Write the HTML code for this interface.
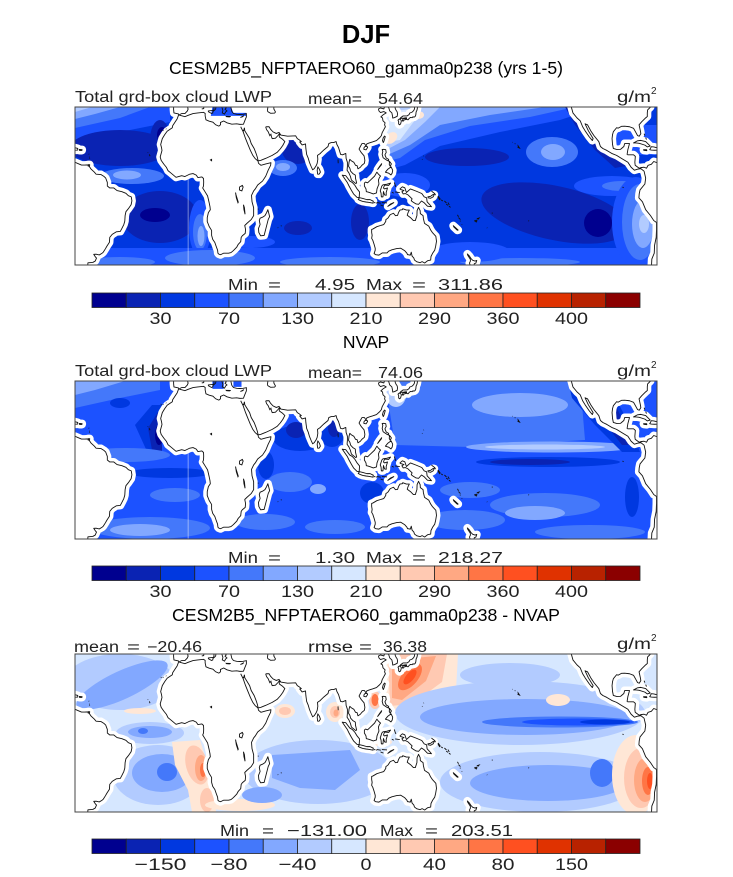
<!DOCTYPE html>
<html><head><meta charset="utf-8"><style>
html,body{margin:0;padding:0;background:#fff;}
svg{display:block;}
text{font-family:"Liberation Sans",Arial,sans-serif;}
.h{font-size:15.5px;fill:#222;}
.t{font-size:17.5px;fill:#000;}
.m{font-size:16px;fill:#222;}
.c{font-size:17px;fill:#222;text-anchor:middle;}
</style></head><body>
<svg width="733" height="877" viewBox="0 0 733 877" xmlns="http://www.w3.org/2000/svg">
<defs>
<clipPath id="cp1"><rect x="75" y="107" width="582" height="158"/></clipPath>
<clipPath id="cp2"><rect x="75" y="381" width="582" height="158"/></clipPath>
<clipPath id="cp3"><rect x="75" y="654" width="582" height="158"/></clipPath>
<path id="L" vector-effect="non-scaling-stroke" stroke-linejoin="round" d="
M-75,12 L-70,12 L-68,11.3 L-66,10.6 L-64,10.6 L-62,10.7 L-61,9.7 L-60,8.5 L-58,7 L-57,6 L-54,5.8 L-52,4.8 L-51,4 L-50,1.8 L-50,0 L-48.5,-1 L-46,-1 L-44,-2.3 L-41,-2.9 L-38.5,-3.7 L-37,-4.9 L-35.2,-5.5 L-34.8,-7.5 L-35.3,-9.5 L-37,-11.5 L-38.5,-13 L-39,-15 L-39.2,-17.8 L-39.8,-19.5 L-41,-21.5 L-42,-23 L-44.5,-23.2 L-47,-24.5 L-48.5,-26 L-48.7,-28.5 L-50.3,-30.5 L-51.2,-31.8 L-52.5,-33.5 L-53.5,-34.2 L-55,-34.9 L-57,-34.5 L-58.4,-34.6 L-57.3,-36 L-56.7,-36.5 L-57.5,-38 L-59,-38.7 L-62,-38.9 L-62.3,-42 L-75,-42 Z
M-74.5,18.4 L-73.5,19.9 L-72,19.8 L-68.3,19 L-68.3,18.2 L-71.5,18.1 L-73.5,18.2 Z
M-67.3,18.5 L-65.6,18.4 L-65.7,18 L-67.2,18 Z
M-61.9,10.8 L-60.9,10.8 L-61,10.1 L-61.9,10.1 Z
M236,42 L237,40 L238,37 L240.5,34.5 L242.5,33 L244,30 L245.5,28 L248,25 L250,23 L250.5,24 L247.5,28 L245.5,31.5 L247,31 L249,28 L251,25.5 L254,22.5 L255,20 L256.5,19 L259,18 L262,16.5 L265,15.5 L268,14 L272,12 L274,9.5 L276,8 L278,8.5 L280,8.8 L282,7.5 L283,4 L282.5,1 L279.5,-2 L279,-4 L278.8,-6 L281,-8 L283,-12 L286,-15 L288,-17.5 L289.7,-18.5 L289.7,-22 L289.5,-26 L288.5,-30 L288.3,-34 L286.8,-37 L286.5,-42 L295,-42 L295,11.5 L290,11.8 L288,12.4 L286.5,11 L284.5,10.5 L283.5,9 L282,9.5 L280,9.3 L279,9 L276.5,10.5 L276.3,12 L276.6,15 L275.5,15.8 L272,15.8 L271.5,16 L272,18.5 L273,21.5 L270,21.5 L269.5,20 L267.5,18.6 L265,18.5 L263,19 L262.5,21 L262.2,24 L262.5,26 L263,27.5 L265,29.5 L266,29.3 L268,30.2 L270,30.3 L273,30 L275.5,29.2 L277,27 L278,25.5 L279,25.2 L280,26.5 L279.7,28 L278.9,31 L280.5,32.5 L283,34.5 L284,35.2 L284,37 L284.2,38.5 L286,40 L286,42 Z
M285.5,18.4 L286.5,19.9 L288,19.8 L291.7,19 L291.7,18.2 L288.5,18.1 L286.5,18.2 Z
M275.5,21.8 L278,22.9 L280,23.1 L283,22.5 L285.8,20.2 L284,19.8 L282.5,20.7 L279,21.6 L277,21.8 Z
M281.7,18.4 L283.6,18.4 L283.7,17.9 L281.8,18.1 Z
M-9,42 L-9,38.7 L-8.8,37 L-6,36.5 L-6,35.8 L-6.8,34 L-9.6,30.5 L-9.8,29.5 L-13,27.7 L-14.5,26 L-16,24 L-17,21 L-16.5,19.5 L-16.2,18 L-17.3,14.7 L-16.7,13 L-15,11 L-13.5,9.5 L-12.5,7.8 L-11,6.8 L-7.5,4.4 L-4,5.2 L-2,4.8 L1,6 L3,6.3 L5,5.5 L6,4.3 L7,4.4 L8.5,4.6 L9.5,3.8 L9.6,2 L9.5,0 L9,-1 L10.5,-3 L12,-5 L12.3,-6 L13,-8.5 L13.5,-10.5 L13.7,-12 L12.5,-13.5 L11.8,-16 L11.8,-18 L13,-20.5 L14.5,-22.5 L14.5,-25 L15.2,-27 L16.5,-28.6 L17.3,-30.5 L18.2,-32.5 L18.4,-34 L19,-34.5 L20,-34.8 L22,-34 L25,-34 L26.5,-33.7 L28,-32.7 L30,-31 L31,-29.5 L32.5,-28.2 L32.8,-26 L33.5,-25.2 L35.3,-24 L35.5,-22 L35,-20 L36.5,-18.8 L39,-17 L40.5,-15 L40.5,-11 L39.5,-8 L39.3,-6 L39.2,-4.7 L40.5,-2.5 L41.5,-1.5 L43,0.5 L46,2.5 L48,5 L49.5,8 L51,10.5 L51.2,11.8 L48,11.2 L45,10.5 L43.5,11.5 L43.2,12.7 L45,13 L48,14 L52,15.5 L55,17 L57,18.8 L58.5,20.5 L59.8,22.5 L58.5,23.6 L56.4,24.8 L56.3,26.3 L57.3,25.8 L61.5,25.2 L66.5,25.4 L67.5,24 L68.5,23.5 L70,22.5 L69,22.3 L70.5,20.8 L72.6,21.3 L72.8,19 L73.3,16 L74.3,14 L75,12 L76,10 L77,8.2 L78,8.8 L79.2,10.3 L79.8,11.5 L80.2,13.5 L80,15.5 L81.5,16.3 L82.3,17 L84,18.3 L86.5,20 L87,21.5 L88.5,22 L90,22 L91.5,22.5 L92,21 L93,19.5 L94.3,16 L95.5,15.8 L97.5,16.5 L97.7,14 L98.5,12 L98.5,10 L98.3,8 L99.5,6.5 L100.3,5 L101,3 L102.5,2 L103.5,1.3 L104.2,1.5 L103.5,4 L103.4,5.5 L102,6.2 L100.5,7.5 L100,9 L99.2,10 L99.5,12 L100,13.5 L101,12.7 L102.5,12 L103.5,10.5 L104.5,10.3 L105,8.7 L106.5,9.5 L107.5,10.5 L109,11.5 L109.3,13 L108.8,15.3 L107,17 L105.7,18.7 L106.5,20 L107.5,21.5 L109,21.5 L110,20.3 L110.5,21.3 L112,21.8 L114,22.3 L116.5,23 L118.5,24.5 L119.5,25.5 L120,27 L121,28.5 L122,30 L121.5,31 L121.8,32 L120.5,33 L120.2,34.5 L119.2,35 L120.5,36 L122.5,37 L121,37.7 L119,37.2 L118,38 L117.7,39 L119,39.5 L121,39 L121.5,40 L122.5,40.2 L124,39.8 L124.7,38 L126,37 L126.5,35 L126.5,34.4 L127.5,34.6 L129.3,35.3 L129.5,36.5 L129.3,37.5 L128.5,38.5 L128,39.5 L128.5,42 Z
M47,-25 L49.5,-17 L50.4,-15.5 L49.3,-12 L48.5,-13.5 L47.5,-15 L46,-15.8 L44.5,-16.3 L44,-17.5 L44.5,-19.5 L43.5,-21.5 L43.7,-23.5 L44.8,-25.2 Z
M79.8,8 L80.2,9.7 L81.2,8.5 L81.8,7 L81,6 L80.1,6 Z
M95.3,5.5 L97.5,5.2 L100,2.5 L101.5,1.8 L103,0.5 L104.5,-1.5 L106,-3 L105.8,-5.8 L104.5,-5.8 L102.3,-4 L101,-2.2 L99.5,0 L98.5,1.7 L97,3.5 Z
M105.2,-6.8 L106,-5.9 L108,-6.3 L110.5,-6.9 L112.5,-6.9 L114.5,-7.7 L114.4,-8.7 L112,-8.3 L110,-8.1 L108,-7.8 L106.5,-7.4 Z
M109,1.5 L109.7,2 L111,1.6 L113,3.2 L115.3,5 L116.7,7 L117.7,6 L119,5 L118.3,4.3 L117.7,3 L118,1 L117.5,0 L116.8,-1.5 L116.5,-3.5 L114.5,-4 L112.5,-3.4 L111,-3 L110.2,-2.9 L110,-1.5 L109,0 Z
M119.5,-5.5 L119.3,-3.5 L118.8,-2.5 L119.8,0 L120.5,0.6 L123,0.9 L124.5,1.3 L125.2,1.5 L124,0.3 L121.5,0.5 L120.8,-1 L121.5,-1.5 L123.3,-1 L122.5,-3.2 L122.5,-4.7 L121.5,-4.5 L120.8,-2.8 L120.5,-5.5 Z
M120,18.5 L121,18.6 L122.2,18.4 L122.5,17 L121.7,15.8 L122.5,14.2 L124,13.5 L124,12.6 L123,13 L121.5,13.8 L120.6,14.3 L120,16 L120.4,17.5 Z
M122,7 L123.5,8.5 L125.5,9.7 L126.5,8 L126.2,6.5 L125.4,5.6 L124,6.5 Z
M124.5,12.5 L125.7,11.2 L125,10 L124.4,10.8 Z
M117.2,8.4 L119.5,10.7 L119.7,11.3 L118.5,10 Z
M120.2,23 L120.7,22 L121,22.5 L121.5,23.8 L121.9,25 L121.5,25.3 L120.7,24.5 Z
M108.7,19.3 L109.5,20.1 L110.7,20 L111,19.5 L110,18.3 L108.7,18.5 Z
M130.9,34 L132,34.3 L133.5,34.4 L135,34.6 L135.2,33.7 L136,33.5 L136.8,34.3 L137.5,34.7 L138.5,34.6 L139,35 L139.8,34.9 L140.4,35.2 L140.8,36 L141,37.5 L141.5,38.3 L141.8,39.5 L142,42 L140,42 L140,39 L139.5,38.2 L138.5,37.4 L137,36.9 L136.7,36.2 L135.5,35.5 L133,35.5 L131.5,34.6 Z
M129.8,33.3 L130.5,33.9 L131.4,33.6 L131.9,33 L131.4,31.4 L130.7,31 L130.2,31.4 L130.2,32.6 Z
M132.5,33 L132.9,34 L134.6,34.2 L134.7,33.7 L133.5,33.4 L133,32.8 Z
M131,-1.5 L132.5,-0.4 L134,-0.9 L135,-3.3 L137.5,-1.5 L141,-2.6 L144.5,-3.8 L146,-5.5 L147.5,-6 L147.8,-8 L149.5,-9.5 L150.5,-10.5 L148,-10.2 L146,-8.5 L144.3,-7.6 L142.5,-9.3 L141,-9.1 L139,-8.1 L138,-7.5 L138.5,-6.5 L136,-4.5 L134.3,-3.8 L133,-4 L132.2,-2.9 L133.5,-2.3 L131.5,-1.8 Z
M123.5,-10.3 L125,-9.2 L127.2,-8.4 L126.5,-8.8 L124.5,-9.8 Z
M148.3,-5.5 L150,-5.2 L151.5,-4.3 L152.2,-4.4 L151.5,-5.5 L150,-6.2 L148.5,-6 Z
M164,-20.1 L165.5,-21.2 L167,-22.3 L166.5,-22.4 L164.3,-20.7 Z
M113.5,-22 L114.2,-21.8 L116.7,-20.6 L119,-20 L121,-19.5 L122.2,-18 L122.3,-17 L123.5,-16.3 L125,-14.5 L127,-13.8 L128.2,-15 L129.5,-14.9 L130.2,-13.3 L131,-12.2 L132.5,-12 L132.7,-11.5 L135,-12.2 L136.8,-12.2 L136,-13.5 L135.5,-14.8 L137.5,-16 L139.3,-17.5 L140.5,-17.5 L141.5,-15 L141.6,-12.5 L142.5,-10.8 L143.5,-12.5 L143.6,-14 L145.3,-15 L145.5,-16.5 L146.2,-18.9 L148.8,-20.3 L150,-22.3 L151,-23.5 L153.2,-25.5 L153.6,-28 L153.1,-30.5 L152.5,-32.5 L151.3,-33.9 L150.2,-35.7 L150,-37.5 L148.2,-37.8 L146.3,-39 L144.7,-38.3 L143.5,-38.8 L141.5,-38.4 L140,-37.5 L139.6,-36.5 L138.5,-35.5 L138,-33.5 L137.4,-35 L136,-34.8 L135.7,-34.8 L135.3,-34 L134,-32.8 L131.5,-31.5 L129,-31.7 L126,-32.3 L124,-33 L123,-33.9 L120,-33.9 L118,-35 L116,-34.8 L115,-34.2 L115.7,-32.5 L115.7,-31.5 L115,-29.5 L114.2,-27.5 L113.5,-26.5 L113.8,-25 L113.5,-23.5 Z
M172.7,-34.4 L174,-35.5 L175,-36.8 L175.5,-37.2 L176,-37.6 L177.5,-38 L178.5,-37.7 L178,-39 L177,-39.3 L176.5,-42 L174.5,-42 L174.8,-41 L174,-39 L174.6,-38 L174.5,-37 L173,-35.2 Z"/>
<path id="X" vector-effect="non-scaling-stroke" fill="none" d="
M-5.6,35.9 L-2,35.1 L0,35.8 L3,36.7 L6,37 L9.5,37.3 L10.5,36.8 L10.5,35.5 L11,33.5 L13,32.8 L15.3,32.3 L17,31 L19,30.3 L20,31 L20,32.2 L22,32.9 L24,32 L27,31.3 L30,31.5 L32,31.2 L34.2,31.3 L35,33 L36,35 L36,36.6 L34,36.3 L32,36.2 L30,36.3 L28,36.7 L27,37.8 L26.5,39.5 L26.5,41
M-5.6,36 L-4,36.7 L-2,36.7 L-0.5,38 L0,39 L-0.3,39.5 L0.5,41
M15.5,41 L16,39.5 L15.7,38 L16.5,38.5 L17,39 L17.3,40.5 L18.5,40.2 L18.5,41
M12.5,38 L15.5,38.3 L15.2,37 L14.5,36.7 L12.5,37.6 Z
M8.4,39 L9.6,39.2 L9.8,40.5 L9.5,41
M20.5,41 L21,39.5 L21.5,38.3 L21.1,37 L22.5,36.4 L23.2,37.5 L24,38 L22.8,38.9 L23.5,39.5 L22.6,40.5 L23.5,41
M23.5,35.3 L26.3,35.2 L25.5,35 L23.7,35.1 Z
M32.3,34.7 L34.5,35.6 L33.5,35 Z
M32.5,30 L34,27.5 L35.5,24 L37,21 L38.5,18 L40,15.5 L41.5,13.8 L43.3,12.6
M43.3,12.7 L42.8,14.5 L42,16.5 L40.8,19 L39,21.5 L38,24 L36.5,26 L35,28 L34.8,29.5 L34.3,28 L33.5,28.2
M56.3,26.3 L55.5,25.5 L54,24.2 L52,24 L51.5,25 L51.2,26.2 L50.5,25.5 L50,26.5 L49.5,27.5 L48.5,28.5 L48,29.8 L48.5,30 L50,30 L51,28.7 L52.5,27.4 L54.5,26.6 L56.2,27.1 L57.3,25.8
M49,38 L49.5,37.5 L51,36.8 L53.5,36.9 L54,37.5 L53,39 L53,40.5 M49,38 L49.4,40.5
M31.8,-0.5 L33.5,0.3 L34,-0.5 L33.2,-2.5 L31.7,-2 Z
M29.3,-3.3 L29.8,-6 L30.8,-8.5 L31,-8.2 L29.6,-4.5 Z
M34.2,-9.5 L34.5,-12 L35.2,-14.3 L34.8,-11 Z
M13.8,13.2 L14.5,13.5 L14.5,12.8 Z
M-15.5,28.2 L-15.4,27.9 M-17,28.3 L-16.4,28.1 M-13.8,29 L-13.5,28.8
M-24,16 L-23.6,15.1 M-25,17 L-24.8,16.8
M43.3,-11.5 L43.4,-11.9 M57.4,-20 L57.7,-20.4 M55.4,-21 L55.7,-21.2
M92.7,13.5 L92.8,11.5
M127.5,1.8 L128,0.5 L128.5,-0.5 M128,-3 L130.9,-3.3 M126,-3.2 L127.2,-3.6
M115,-8.2 L115.7,-8.6 M116.1,-8.4 L116.6,-8.8 M116.8,-8.4 L119.2,-8.7 M119.8,-8.4 L123,-8.6 M119,-9.6 L120.8,-10.2
M150.5,-2.6 L152.5,-3.8 L153,-4.6 L152,-3.5 Z
M154.6,-5.1 L155.9,-6.6 L155.5,-6.9 L154.7,-5.8 Z
M156.5,-7 L157.5,-7.6 M158.5,-7.6 L159.8,-8.6 M159.6,-9.2 L160.8,-9.8 M160.7,-8.4 L161.5,-9.6 M161.3,-10.2 L162.3,-10.8
M166.6,-14.6 L167.2,-15.6 M167.2,-16 L168.4,-17 M168.3,-17.5 L168.3,-18 M169.2,-19.4 L169.5,-19.6
M177.3,-17.5 L178.6,-17.3 L178.4,-18.2 L177.5,-18 Z M178.9,-16.5 L180,-16.2 L179.4,-16.8 Z
M187.8,-13.6 L188.4,-13.8 M184.8,-21.1 L185,-21.3 M210.5,-17.5 L210.8,-17.8
M204,19.5 L205,19.2 L204.2,20.2 Z M203.6,20.8 L203.9,20.6 M202,21.5 L202.4,21.3 M200.5,22.1 L200.7,22.2
M268.7,-0.5 L269.3,-0.9
M144.7,13.4 L144.9,13.6 M145.6,15.1 L145.8,15.3
M282,26.5 L282.5,25.5 M283,24.5 L283.5,23.5
M-61.5,16.3 L-61.3,16 M-61,14.8 L-61,14.4 M-61,14 L-60.9,13.7"/>
</defs>

<!-- Titles -->
<text x="366" y="43" text-anchor="middle" style="font-size:25.5px;font-weight:bold;fill:#000">DJF</text>
<text class="t" x="169" y="74" textLength="394" lengthAdjust="spacingAndGlyphs">CESM2B5_NFPTAERO60_gamma0p238 (yrs 1-5)</text>

<!-- Panel 1 header -->
<text class="h" x="75" y="102" textLength="197" lengthAdjust="spacingAndGlyphs">Total grd-box cloud LWP</text>
<text class="h" x="308" y="104" textLength="54" lengthAdjust="spacingAndGlyphs">mean=</text>
<text class="h" x="378" y="104" textLength="45" lengthAdjust="spacingAndGlyphs">54.64</text>
<text class="h" x="617" y="102" textLength="34" lengthAdjust="spacingAndGlyphs">g/m</text>
<text x="651" y="94" style="font-size:10px;fill:#222">2</text>

<!-- Panel 1 -->
<g clip-path="url(#cp1)">
<rect x="75" y="107" width="582" height="158" fill="#0038e0"/>
<path d="M75,107 H170 V122 L130,130 L75,142 Z" fill="#1c52ff"/>
<path d="M75,107 H150 L120,118 L75,128 Z" fill="#4478fa"/>
<path d="M75,107 H120 L95,114 L75,119 Z" fill="#82a8ff"/>
<path d="M75,107 H92 L75,112 Z" fill="#b2cbff"/>
<ellipse cx="120" cy="148" rx="50" ry="18" fill="#0a23b3"/>
<ellipse cx="160" cy="140" rx="10" ry="20" fill="#0a23b3"/>
<ellipse cx="162" cy="135" rx="5" ry="8" fill="#00008f"/>
<ellipse cx="132" cy="176" rx="32" ry="8" fill="#4478fa"/>
<ellipse cx="127" cy="175" rx="14" ry="4.5" fill="#82a8ff"/>
<ellipse cx="160" cy="217" rx="38" ry="26" fill="#0a23b3"/>
<ellipse cx="155" cy="215" rx="15" ry="7" fill="#00008f"/>
<ellipse cx="200" cy="228" rx="11" ry="28" fill="#1c52ff"/>
<ellipse cx="200" cy="232" rx="7" ry="18" fill="#4478fa"/>
<ellipse cx="201" cy="236" rx="3.5" ry="10" fill="#82a8ff"/>
<rect x="75" y="248" width="582" height="17" fill="#1c52ff"/>
<ellipse cx="210" cy="258" rx="45" ry="8" fill="#4478fa"/>
<ellipse cx="330" cy="262" rx="50" ry="5" fill="#4478fa"/>
<ellipse cx="120" cy="262" rx="35" ry="5" fill="#4478fa"/>
<ellipse cx="520" cy="262" rx="60" ry="4" fill="#4478fa"/>
<ellipse cx="298" cy="150" rx="16" ry="14" fill="#0a23b3"/>
<ellipse cx="283" cy="168" rx="14" ry="8" fill="#4478fa"/>
<ellipse cx="283" cy="167" rx="7" ry="4" fill="#82a8ff"/>
<ellipse cx="298" cy="228" rx="14" ry="7" fill="#0a23b3"/>
<ellipse cx="360" cy="222" rx="9" ry="18" fill="#0a23b3"/>
<ellipse cx="250" cy="242" rx="25" ry="6" fill="#1c52ff"/>
<ellipse cx="405" cy="185" rx="25" ry="12" fill="#1c52ff"/>
<path d="M380,107 H600 L560,120 L500,132 L440,146 L405,165 L380,172 Z" fill="#1c52ff"/>
<path d="M380,107 H575 L530,117 L470,126 L425,140 L400,158 L380,163 Z" fill="#4478fa"/>
<path d="M380,107 H545 L490,115 L440,125 L410,145 L385,156 L380,156 Z" fill="#82a8ff"/>
<path d="M382,107 H440 L425,122 L405,140 L386,150 L382,140 Z" fill="#b2cbff"/>
<path d="M386,112 L420,108 L415,120 L400,140 L387,142 Z" fill="#d6e7ff"/>
<ellipse cx="391" cy="138" rx="7" ry="5" fill="#ffe7d6" transform="rotate(-40 391 138)"/>
<ellipse cx="418" cy="115" rx="6" ry="4" fill="#ffe7d6"/>
<ellipse cx="467" cy="157" rx="42" ry="9" fill="#0a23b3"/>
<ellipse cx="552" cy="152" rx="26" ry="15" fill="#4478fa"/>
<ellipse cx="553" cy="152" rx="12" ry="8" fill="#82a8ff"/>
<path d="M565,107 H600 L615,140 L632,165 L615,168 L595,150 L575,125 Z" fill="#0a23b3"/>
<path d="M575,107 H598 L612,140 L602,142 L585,120 Z" fill="#00008f"/>
<rect x="612" y="125" width="45" height="30" fill="#1c52ff"/>
<ellipse cx="612" cy="186" rx="38" ry="10" fill="#1c52ff"/>
<ellipse cx="622" cy="186" rx="20" ry="5" fill="#4478fa"/>
<ellipse cx="555" cy="213" rx="75" ry="27" fill="#0a23b3" transform="rotate(12 555 213)"/>
<ellipse cx="598" cy="223" rx="14" ry="14" fill="#00008f"/>
<ellipse cx="636" cy="222" rx="24" ry="45" fill="#1c52ff"/>
<ellipse cx="640" cy="222" rx="18" ry="38" fill="#4478fa"/>
<ellipse cx="643" cy="224" rx="11" ry="24" fill="#82a8ff"/>
<ellipse cx="644" cy="224" rx="5" ry="9" fill="#b2cbff"/>
<ellipse cx="470" cy="252" rx="40" ry="10" fill="#1c52ff"/>
<g transform="translate(75,107) scale(1.616667,-1.975) translate(70,-40)">
<use href="#L" fill="#fff" stroke="#fff" stroke-width="8"/>
<path d="M14,35.5 L36,35.5 L36,37 L28,37 L26.5,40 L15,40 Z" fill="#1c52ff"/>
<path d="M0,5 L0,-42" vector-effect="non-scaling-stroke" stroke="rgba(255,255,255,0.45)" stroke-width="1"/>
<use href="#L" fill="none" stroke="#111" stroke-width="0.9"/>
<use href="#X" stroke="#111" stroke-width="0.9"/>
</g>
</g>
<rect x="75" y="107" width="582" height="158" fill="none" stroke="#444" stroke-width="1"/>

<!-- Colorbar 1 -->
<text class="m" x="228" y="290" textLength="30" lengthAdjust="spacingAndGlyphs">Min</text>
<text class="m" x="268" y="290" textLength="13" lengthAdjust="spacingAndGlyphs">=</text>
<text class="m" x="315" y="290" textLength="40" lengthAdjust="spacingAndGlyphs">4.95</text>
<text class="m" x="366" y="290" textLength="36" lengthAdjust="spacingAndGlyphs">Max</text>
<text class="m" x="412" y="290" textLength="14" lengthAdjust="spacingAndGlyphs">=</text>
<text class="m" x="438" y="290" textLength="65" lengthAdjust="spacingAndGlyphs">311.86</text>
<g id="cb" stroke="#222" stroke-width="0.8">
<rect x="92" y="293" width="34.25" height="14.5" fill="#00008f"/>
<rect x="126.25" y="293" width="34.25" height="14.5" fill="#0a23b3"/>
<rect x="160.5" y="293" width="34.25" height="14.5" fill="#0038e0"/>
<rect x="194.75" y="293" width="34.25" height="14.5" fill="#1c52ff"/>
<rect x="229" y="293" width="34.25" height="14.5" fill="#4478fa"/>
<rect x="263.25" y="293" width="34.25" height="14.5" fill="#82a8ff"/>
<rect x="297.5" y="293" width="34.25" height="14.5" fill="#b2cbff"/>
<rect x="331.75" y="293" width="34.25" height="14.5" fill="#d6e7ff"/>
<rect x="366" y="293" width="34.25" height="14.5" fill="#ffe7d6"/>
<rect x="400.25" y="293" width="34.25" height="14.5" fill="#ffc9b2"/>
<rect x="434.5" y="293" width="34.25" height="14.5" fill="#ffa883"/>
<rect x="468.75" y="293" width="34.25" height="14.5" fill="#ff7545"/>
<rect x="503" y="293" width="34.25" height="14.5" fill="#ff5020"/>
<rect x="537.25" y="293" width="34.25" height="14.5" fill="#e03200"/>
<rect x="571.5" y="293" width="34.25" height="14.5" fill="#b82200"/>
<rect x="605.75" y="293" width="34.25" height="14.5" fill="#8b0000"/>
</g>
<text class="c" x="160.5" y="324" textLength="22" lengthAdjust="spacingAndGlyphs">30</text>
<text class="c" x="229" y="324" textLength="22" lengthAdjust="spacingAndGlyphs">70</text>
<text class="c" x="297.5" y="324" textLength="33" lengthAdjust="spacingAndGlyphs">130</text>
<text class="c" x="366" y="324" textLength="33" lengthAdjust="spacingAndGlyphs">210</text>
<text class="c" x="434.5" y="324" textLength="33" lengthAdjust="spacingAndGlyphs">290</text>
<text class="c" x="503" y="324" textLength="33" lengthAdjust="spacingAndGlyphs">360</text>
<text class="c" x="571.5" y="324" textLength="33" lengthAdjust="spacingAndGlyphs">400</text>

<!-- Panel 2 -->
<text class="t" x="366" y="348" text-anchor="middle">NVAP</text>
<text class="h" x="75" y="376" textLength="197" lengthAdjust="spacingAndGlyphs">Total grd-box cloud LWP</text>
<text class="h" x="308" y="378" textLength="54" lengthAdjust="spacingAndGlyphs">mean=</text>
<text class="h" x="378" y="378" textLength="45" lengthAdjust="spacingAndGlyphs">74.06</text>
<text class="h" x="617" y="376" textLength="34" lengthAdjust="spacingAndGlyphs">g/m</text>
<text x="651" y="368" style="font-size:10px;fill:#222">2</text>
<g clip-path="url(#cp2)">
<rect x="75" y="381" width="582" height="158" fill="#1c52ff"/>
<path d="M75,381 H160 V390 L120,398 L75,408 Z" fill="#4478fa"/>
<path d="M75,381 H125 L95,390 L75,395 Z" fill="#82a8ff"/>
<ellipse cx="120" cy="403" rx="10" ry="5" fill="#0038e0"/>
<path d="M135,425 L152,405 L162,405 L162,458 L150,458 Z" fill="#0038e0"/>
<path d="M148,428 L158,412 L162,412 L162,452 L152,450 Z" fill="#0a23b3"/>
<ellipse cx="159" cy="435" rx="4" ry="10" fill="#00008f"/>
<ellipse cx="125" cy="455" rx="45" ry="7" fill="#4478fa"/>
<ellipse cx="170" cy="473" rx="42" ry="5" fill="#0038e0"/>
<ellipse cx="175" cy="495" rx="25" ry="7" fill="#4478fa"/>
<ellipse cx="150" cy="528" rx="60" ry="11" fill="#4478fa"/>
<ellipse cx="140" cy="530" rx="30" ry="6" fill="#82a8ff"/>
<ellipse cx="300" cy="438" rx="27" ry="13" fill="#0038e0"/>
<ellipse cx="332" cy="432" rx="13" ry="15" fill="#0038e0"/>
<ellipse cx="296" cy="430" rx="10" ry="8" fill="#0a23b3"/>
<ellipse cx="334" cy="428" rx="6" ry="9" fill="#0a23b3"/>
<ellipse cx="266" cy="465" rx="8" ry="14" fill="#0038e0"/>
<ellipse cx="290" cy="482" rx="22" ry="10" fill="#4478fa"/>
<ellipse cx="318" cy="489" rx="8" ry="5" fill="#82a8ff"/>
<ellipse cx="265" cy="522" rx="30" ry="8" fill="#4478fa"/>
<ellipse cx="335" cy="527" rx="30" ry="7" fill="#4478fa"/>
<ellipse cx="372" cy="493" rx="12" ry="11" fill="#0038e0"/>
<path d="M385,381 H580 L585,440 L470,447 L395,445 Z" fill="#4478fa"/>
<ellipse cx="520" cy="405" rx="48" ry="12" fill="#82a8ff"/>
<ellipse cx="396" cy="395" rx="10" ry="12" fill="#b2cbff"/>
<ellipse cx="552" cy="447" rx="86" ry="5.5" fill="#82a8ff"/>
<ellipse cx="545" cy="447" rx="60" ry="2.5" fill="#b2cbff"/>
<ellipse cx="548" cy="462" rx="72" ry="5" fill="#0038e0"/>
<ellipse cx="530" cy="462" rx="40" ry="3" fill="#0a23b3"/>
<ellipse cx="470" cy="490" rx="30" ry="8" fill="#4478fa"/>
<ellipse cx="545" cy="505" rx="55" ry="12" fill="#4478fa"/>
<ellipse cx="535" cy="513" rx="30" ry="7" fill="#82a8ff"/>
<ellipse cx="465" cy="520" rx="40" ry="10" fill="#4478fa"/>
<ellipse cx="590" cy="532" rx="55" ry="7" fill="#4478fa"/>
<path d="M568,381 H606 L630,425 L640,452 L622,452 L595,425 L572,398 Z" fill="#0038e0"/>
<path d="M580,381 H604 L625,425 L632,445 L622,445 L598,415 Z" fill="#0a23b3"/>
<ellipse cx="632" cy="497" rx="7" ry="20" fill="#0038e0"/>
<g transform="translate(75,381) scale(1.616667,-1.975) translate(70,-40)">
<use href="#L" fill="#fff" stroke="#fff" stroke-width="8"/>
<path d="M15,36 L22,36 L22,40 L15,40 Z M28,37 L33,37 L33,40 L28,40 Z" fill="#1c52ff"/>
<path d="M0,5 L0,-42" vector-effect="non-scaling-stroke" stroke="rgba(255,255,255,0.45)" stroke-width="1"/>
<use href="#L" fill="none" stroke="#111" stroke-width="0.9"/>
<use href="#X" stroke="#111" stroke-width="0.9"/>
</g>
</g>
<rect x="75" y="381" width="582" height="158" fill="none" stroke="#444" stroke-width="1"/>

<text class="m" x="228" y="563" textLength="30" lengthAdjust="spacingAndGlyphs">Min</text>
<text class="m" x="268" y="563" textLength="13" lengthAdjust="spacingAndGlyphs">=</text>
<text class="m" x="315" y="563" textLength="40" lengthAdjust="spacingAndGlyphs">1.30</text>
<text class="m" x="366" y="563" textLength="36" lengthAdjust="spacingAndGlyphs">Max</text>
<text class="m" x="412" y="563" textLength="14" lengthAdjust="spacingAndGlyphs">=</text>
<text class="m" x="438" y="563" textLength="65" lengthAdjust="spacingAndGlyphs">218.27</text>
<use href="#cb" transform="translate(0,273)"/>
<text class="c" x="160.5" y="597" textLength="22" lengthAdjust="spacingAndGlyphs">30</text>
<text class="c" x="229" y="597" textLength="22" lengthAdjust="spacingAndGlyphs">70</text>
<text class="c" x="297.5" y="597" textLength="33" lengthAdjust="spacingAndGlyphs">130</text>
<text class="c" x="366" y="597" textLength="33" lengthAdjust="spacingAndGlyphs">210</text>
<text class="c" x="434.5" y="597" textLength="33" lengthAdjust="spacingAndGlyphs">290</text>
<text class="c" x="503" y="597" textLength="33" lengthAdjust="spacingAndGlyphs">360</text>
<text class="c" x="571.5" y="597" textLength="33" lengthAdjust="spacingAndGlyphs">400</text>

<!-- Panel 3 -->
<text class="t" x="172" y="621" textLength="388" lengthAdjust="spacingAndGlyphs">CESM2B5_NFPTAERO60_gamma0p238 - NVAP</text>
<text class="h" x="74" y="652" textLength="45" lengthAdjust="spacingAndGlyphs">mean</text>
<text class="h" x="127" y="652" textLength="13" lengthAdjust="spacingAndGlyphs">=</text>
<text class="h" x="147" y="652" textLength="55" lengthAdjust="spacingAndGlyphs">−20.46</text>
<text class="h" x="308" y="652" textLength="45" lengthAdjust="spacingAndGlyphs">rmse</text>
<text class="h" x="359" y="652" textLength="13" lengthAdjust="spacingAndGlyphs">=</text>
<text class="h" x="383" y="652" textLength="44" lengthAdjust="spacingAndGlyphs">36.38</text>
<text class="h" x="617" y="649" textLength="34" lengthAdjust="spacingAndGlyphs">g/m</text>
<text x="651" y="641" style="font-size:10px;fill:#222">2</text>
<g clip-path="url(#cp3)">
<rect x="75" y="654" width="582" height="158" fill="#d6e7ff"/>
<ellipse cx="120" cy="682" rx="55" ry="28" fill="#b2cbff"/>
<ellipse cx="122" cy="685" rx="50" ry="14" fill="#82a8ff" transform="rotate(-25 122 685)"/>
<ellipse cx="150" cy="733" rx="34" ry="11" fill="#b2cbff"/>
<ellipse cx="150" cy="732" rx="22" ry="6" fill="#82a8ff"/>
<ellipse cx="143" cy="731" rx="5" ry="3" fill="#4478fa"/>
<ellipse cx="140" cy="711" rx="16" ry="3" fill="#ffe7d6"/>
<ellipse cx="158" cy="775" rx="45" ry="30" fill="#b2cbff"/>
<ellipse cx="162" cy="773" rx="30" ry="19" fill="#82a8ff"/>
<ellipse cx="167" cy="772" rx="10" ry="9" fill="#4478fa"/>
<path d="M172,742 L200,740 L214,785 L216,812 L192,812 L188,790 L175,765 Z" fill="#ffe7d6"/>
<ellipse cx="197" cy="765" rx="11" ry="20" fill="#ffc9b2" transform="rotate(-15 197 765)"/>
<ellipse cx="201" cy="768" rx="6" ry="13" fill="#ffa883"/>
<ellipse cx="203" cy="770" rx="3" ry="7" fill="#ff7545"/>
<ellipse cx="207" cy="800" rx="7" ry="12" fill="#ffc9b2"/>
<ellipse cx="240" cy="805" rx="35" ry="6" fill="#ffe7d6"/>
<ellipse cx="318" cy="772" rx="75" ry="32" fill="#b2cbff"/>
<path d="M272,755 L350,750 L360,770 L335,790 L300,788 L272,778 Z" fill="#82a8ff"/>
<ellipse cx="262" cy="795" rx="20" ry="8" fill="#82a8ff"/>
<ellipse cx="285" cy="711" rx="10" ry="7" fill="#ffe7d6"/>
<ellipse cx="285" cy="711" rx="6" ry="4" fill="#ffc9b2"/>
<ellipse cx="335" cy="712" rx="9" ry="10" fill="#ffe7d6"/>
<ellipse cx="335" cy="712" rx="5" ry="6" fill="#ffc9b2"/>
<ellipse cx="336" cy="713" rx="2.5" ry="3.5" fill="#ffa883"/>
<path d="M380,654 H458 L456,690 L432,706 L400,716 L383,714 Z" fill="#ffe7d6"/>
<path d="M388,654 H447 L442,682 L412,704 L390,706 Z" fill="#ffc9b2"/>
<path d="M392,660 L436,656 L426,681 L402,700 L392,698 Z" fill="#ffa883"/>
<ellipse cx="410" cy="677" rx="8" ry="16" fill="#ff7545" transform="rotate(40 410 677)"/>
<ellipse cx="410" cy="677" rx="4" ry="9" fill="#ff5020" transform="rotate(40 410 677)"/>
<ellipse cx="375" cy="700" rx="6" ry="9" fill="#ffc9b2"/>
<ellipse cx="375" cy="700" rx="3.5" ry="6" fill="#ff7545"/>
<ellipse cx="510" cy="675" rx="50" ry="12" fill="#b2cbff"/>
<ellipse cx="520" cy="713" rx="125" ry="32" fill="#b2cbff"/>
<ellipse cx="525" cy="717" rx="105" ry="18" fill="#82a8ff"/>
<ellipse cx="560" cy="722" rx="78" ry="5.5" fill="#4478fa"/>
<ellipse cx="578" cy="722" rx="56" ry="3.5" fill="#1c52ff"/>
<ellipse cx="605" cy="722" rx="25" ry="2.5" fill="#0038e0"/>
<ellipse cx="558" cy="700" rx="12" ry="6" fill="#ffe7d6"/>
<ellipse cx="380" cy="742" rx="12" ry="4" fill="#ffe7d6"/>
<ellipse cx="540" cy="782" rx="100" ry="30" fill="#b2cbff"/>
<ellipse cx="548" cy="783" rx="78" ry="18" fill="#82a8ff"/>
<ellipse cx="602" cy="773" rx="12" ry="14" fill="#4478fa"/>
<ellipse cx="636" cy="775" rx="24" ry="40" fill="#ffe7d6"/>
<ellipse cx="641" cy="778" rx="17" ry="30" fill="#ffc9b2"/>
<ellipse cx="645" cy="780" rx="11" ry="22" fill="#ffa883"/>
<ellipse cx="648" cy="781" rx="6" ry="14" fill="#ff7545"/>
<ellipse cx="650" cy="781" rx="3" ry="8" fill="#ff5020"/>
<g transform="translate(75,654) scale(1.616667,-1.975) translate(70,-40)">
<use href="#L" fill="#fff" stroke="#fff" stroke-width="8"/>
<use href="#L" fill="none" stroke="#111" stroke-width="0.9"/>
<use href="#X" stroke="#111" stroke-width="0.9"/>
</g>
</g>
<rect x="75" y="654" width="582" height="158" fill="none" stroke="#444" stroke-width="1"/>

<text class="m" x="220" y="836" textLength="29" lengthAdjust="spacingAndGlyphs">Min</text>
<text class="m" x="262" y="836" textLength="12" lengthAdjust="spacingAndGlyphs">=</text>
<text class="m" x="287" y="836" textLength="80" lengthAdjust="spacingAndGlyphs">−131.00</text>
<text class="m" x="380" y="836" textLength="33" lengthAdjust="spacingAndGlyphs">Max</text>
<text class="m" x="425" y="836" textLength="13" lengthAdjust="spacingAndGlyphs">=</text>
<text class="m" x="451" y="836" textLength="62" lengthAdjust="spacingAndGlyphs">203.51</text>
<use href="#cb" transform="translate(0,546)"/>
<text class="c" x="160.5" y="870" textLength="52" lengthAdjust="spacingAndGlyphs">−150</text>
<text class="c" x="229" y="870" textLength="37" lengthAdjust="spacingAndGlyphs">−80</text>
<text class="c" x="297.5" y="870" textLength="38" lengthAdjust="spacingAndGlyphs">−40</text>
<text class="c" x="366" y="870" textLength="11" lengthAdjust="spacingAndGlyphs">0</text>
<text class="c" x="434.5" y="870" textLength="23" lengthAdjust="spacingAndGlyphs">40</text>
<text class="c" x="503" y="870" textLength="23" lengthAdjust="spacingAndGlyphs">80</text>
<text class="c" x="571.5" y="870" textLength="33" lengthAdjust="spacingAndGlyphs">150</text>
</svg>
</body></html>
